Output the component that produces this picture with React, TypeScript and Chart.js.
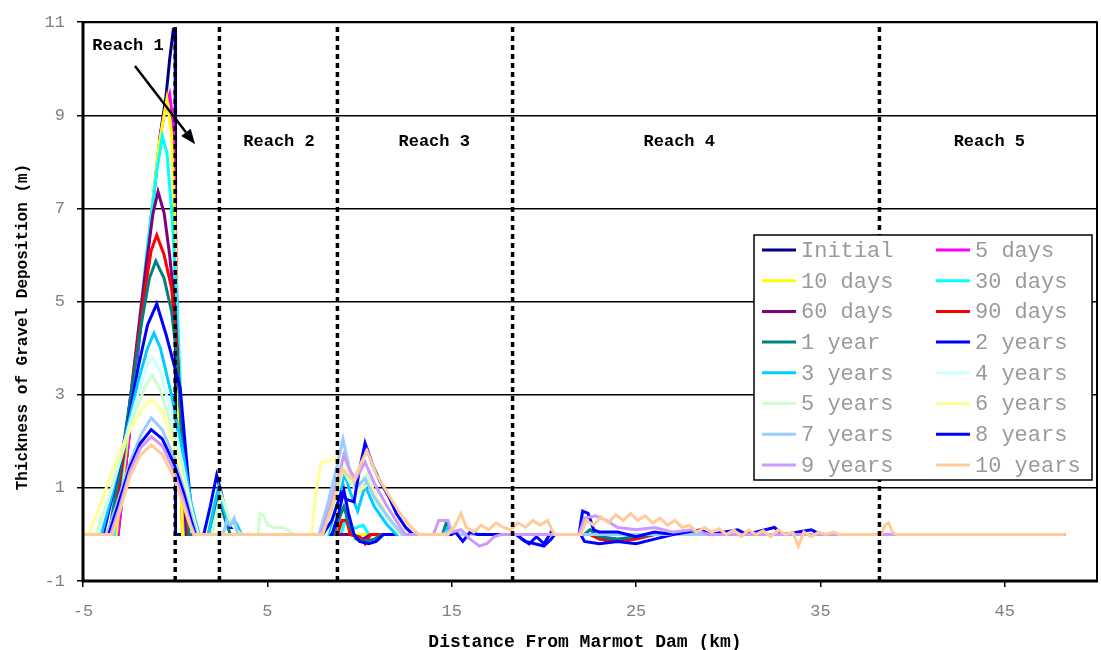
import React, { useEffect, useRef } from "react";
import { Chart, registerables } from "chart.js";

Chart.register(...registerables);

type P = [number, number];

// ---- series meta ----
const seriesLabels = [
  "Initial", "5 days", "10 days", "30 days", "60 days", "90 days",
  "1 year", "2 years", "3 years", "4 years", "5 years", "6 years",
  "7 years", "8 years", "9 years", "10 years",
];
const seriesColors = [
  "#000080", "#FF00FF", "#FFFF00", "#00FFFF", "#800080", "#FF0000",
  "#008080", "#0000FF", "#00CCFF", "#CCFFFF", "#CCFFCC", "#FFFF99",
  "#99CCFF", "#0000FF", "#CC99FF", "#FFCC99",
];

// ---- series values: [distance km, thickness m] ----
const initialPts: P[] = [[-5,0],[-3.1,0],[-2.5,2.1],[-1.9,4.4],[-1.3,6.8],[-0.8,8.6],[-0.5,9.4],[-0.3,10.2],[-0.1,10.85],[0.0,10.85],[0.02,0],[48.3,0]];
const days5Pts: P[] = [[-5,0],[-3.1,0],[-2.5,2.1],[-1.9,4.4],[-1.3,6.8],[-0.8,8.6],[-0.5,9.2],[-0.3,9.45],[-0.1,8.8],[0.05,6.0],[0.25,2.0],[0.4,0],[48.3,0]];
const days10Pts: P[] = [[-5,0],[-3.2,0],[-2.6,2.0],[-2.0,4.2],[-1.4,6.5],[-0.9,8.3],[-0.6,9.0],[-0.45,9.35],[-0.2,8.6],[0.0,6.5],[0.2,2.5],[0.4,0],[48.3,0]];
const days30Pts: P[] = [[-5,0],[-3.3,0],[-2.7,1.9],[-2.1,4.0],[-1.5,6.2],[-1.0,7.8],[-0.7,8.55],[-0.45,8.2],[-0.2,7.0],[0.1,5.0],[0.35,2.5],[0.6,0],[9.0,0],[9.3,0.4],[9.5,0.1],[10.2,0.2],[10.5,0],[48.3,0]];
const days60Pts: P[] = [[-5,0],[-3.4,0],[-2.8,1.7],[-2.2,3.7],[-1.6,5.7],[-1.2,6.9],[-0.93,7.36],[-0.6,6.9],[-0.3,6.0],[0.0,4.8],[0.3,2.5],[0.6,0],[9.5,0],[10.2,-0.1],[10.6,0],[22.5,0],[23.5,-0.15],[24.5,-0.1],[25,0],[48.3,0]];
const days90Pts: P[] = [[-5,0],[-3.5,0],[-2.9,1.5],[-2.3,3.3],[-1.7,5.1],[-1.3,6.1],[-1.0,6.43],[-0.6,6.0],[-0.2,5.3],[0.1,4.0],[0.4,1.9],[0.7,0],[8.8,0],[9.05,0.3],[9.3,0.3],[9.5,0],[10.0,-0.05],[10.3,-0.2],[10.6,0],[22.5,0],[23,-0.1],[24,-0.15],[25,-0.1],[26,0],[48.3,0]];
const year1Pts: P[] = [[-5,0],[-3.6,0],[-3.0,1.4],[-2.4,3.0],[-1.8,4.6],[-1.4,5.5],[-1.05,5.87],[-0.6,5.5],[-0.2,4.8],[0.1,3.8],[0.43,1.8],[0.75,0],[1.8,0],[2.1,0.5],[2.3,0.85],[2.5,0.6],[2.8,0.2],[3.0,0],[8.6,0],[9.0,0.45],[9.15,0.6],[9.45,0.2],[9.8,-0.1],[10.3,-0.15],[10.8,-0.1],[11.2,0],[14.5,0],[14.7,0.25],[14.9,0.1],[15.1,0],[22.2,0],[22.5,0.1],[23,-0.05],[24,-0.1],[25,-0.05],[26,0],[48.3,0]];
const years2Pts: P[] = [[-5,0],[-3.9,0],[-3.3,1.0],[-2.6,2.3],[-2.0,3.6],[-1.5,4.5],[-1.0,4.95],[-0.5,4.3],[0.27,3.15],[0.64,1.5],[0.9,0.4],[1.1,0],[1.55,0],[1.9,0.6],[2.25,1.27],[2.5,0.9],[2.75,0.45],[3.0,0.15],[3.3,0.15],[3.5,0],[8.5,0],[8.9,0.5],[9.15,0.95],[9.4,0.45],[9.7,0.0],[10.0,-0.15],[10.5,-0.2],[10.9,-0.15],[11.3,0],[18.5,0],[19.0,-0.15],[19.5,-0.2],[20.0,-0.25],[20.4,-0.1],[20.6,0],[22.0,0],[22.2,-0.15],[23.0,-0.2],[24.0,-0.15],[25.0,-0.2],[26.0,-0.1],[27,0],[48.3,0]];
const years3Pts: P[] = [[-5,0],[-4.0,0],[-3.4,0.9],[-2.7,2.1],[-2.0,3.3],[-1.5,4.0],[-1.15,4.32],[-0.8,4.0],[-0.2,3.0],[0.4,1.8],[0.9,0.6],[1.3,0],[1.8,0],[2.1,0.6],[2.35,1.0],[2.6,0.6],[2.9,0.2],[3.3,0.25],[3.6,0],[8.3,0],[8.8,0.7],[9.2,1.3],[9.5,0.9],[9.9,0.5],[10.3,1.05],[10.8,0.6],[11.5,0.2],[12.0,0],[14.6,0],[14.8,0.15],[15.0,0],[48.3,0]];
const years4Pts: P[] = [[-5,0],[-4.2,0],[-3.5,0.9],[-2.8,1.9],[-2.1,2.9],[-1.55,3.6],[-1.25,3.8],[-0.8,3.5],[-0.2,2.6],[0.4,1.5],[0.9,0.5],[1.25,0],[8.0,0],[8.5,0.8],[9.0,1.5],[9.3,1.45],[9.8,0.9],[10.4,1.2],[11.0,0.6],[11.8,0.2],[12.3,0],[15.8,0],[16.2,0.1],[16.6,0],[48.3,0]];
const years5Pts: P[] = [[-5,0],[-4.3,0],[-3.6,0.8],[-2.9,1.7],[-2.2,2.6],[-1.6,3.2],[-1.25,3.42],[-0.8,3.1],[-0.2,2.3],[0.4,1.3],[0.9,0.4],[1.2,0],[2.0,0],[2.3,0.5],[2.5,0.85],[2.7,0.6],[3.0,0.25],[3.3,0.1],[3.6,0],[4.5,0],[4.6,0.45],[4.8,0.4],[5.0,0.2],[5.4,0.15],[5.8,0.15],[6.1,0.1],[6.4,0],[8.2,0],[8.7,0.7],[9.1,1.4],[9.5,1.1],[9.9,1.0],[10.4,1.3],[11.0,0.7],[11.6,0.3],[12.2,0],[48.3,0]];
const years6Pts: P[] = [[-5,0],[-4.7,0],[-4.0,0.7],[-3.3,1.5],[-2.5,2.2],[-1.8,2.7],[-1.3,2.9],[-0.7,2.65],[-0.1,1.95],[0.45,1.1],[1.0,0.3],[1.2,0],[7.4,0],[7.6,0.8],[7.9,1.55],[8.6,1.6],[9.1,1.75],[9.5,1.2],[9.9,0.9],[10.5,1.1],[11.1,0.7],[11.7,0.3],[12.2,0],[28,0],[28.5,0.1],[29,0],[48.3,0]];
const years7Pts: P[] = [[-5,0],[-3.7,0],[-3.0,0.85],[-2.4,1.6],[-1.85,2.15],[-1.3,2.5],[-0.7,2.25],[-0.1,1.7],[0.45,1.0],[0.95,0.3],[1.15,0],[2.6,0],[2.8,0.3],[3.0,0.2],[3.2,0.35],[3.4,0],[7.8,0],[8.3,0.7],[8.8,1.5],[9.1,2.05],[9.4,1.5],[9.8,1.0],[10.3,1.2],[10.8,0.8],[11.5,0.4],[12.3,0],[14.5,0],[15,0.1],[15.5,0],[48.3,0]];
const years8Pts: P[] = [[-5,0],[-3.6,0],[-3.0,0.75],[-2.45,1.45],[-1.9,1.95],[-1.3,2.25],[-0.7,2.05],[-0.1,1.55],[0.45,0.9],[0.9,0.25],[1.1,0],[8.0,0],[8.5,0.3],[9.0,0.9],[9.3,0.75],[9.7,0.7],[10.0,1.4],[10.3,1.96],[10.7,1.5],[11.1,1.15],[11.6,0.8],[12.0,0.45],[12.5,0.15],[12.9,0],[15.0,0],[15.2,0.05],[15.6,-0.15],[16.0,0.05],[16.4,0],[18.5,0],[18.8,-0.1],[19.2,-0.2],[19.6,-0.05],[20.0,-0.2],[20.4,0.05],[20.6,0],[21.9,0],[22.1,0.5],[22.4,0.45],[22.7,0.1],[23.0,0.05],[24,0.05],[25,-0.05],[26,0.05],[27,0],[28.5,0.1],[29,0],[30.5,0.1],[31,0],[32.5,0.15],[33,0],[34.5,0.1],[35,0],[48.3,0]];
const years9Pts: P[] = [[-5,0],[-3.5,0],[-3.0,0.6],[-2.45,1.35],[-1.9,1.85],[-1.3,2.1],[-0.7,1.9],[-0.1,1.4],[0.4,0.8],[0.85,0.2],[1.05,0],[7.9,0],[8.4,0.6],[8.9,1.3],[9.15,1.7],[9.5,1.35],[9.8,1.2],[10.3,1.55],[10.8,1.1],[11.5,0.6],[12.3,0.1],[12.5,0],[14.0,0],[14.3,0.3],[14.8,0.3],[15.0,0.05],[15.5,0.1],[16.0,-0.1],[16.5,-0.25],[16.9,-0.2],[17.3,-0.05],[17.7,0],[21.9,0],[22.2,0.35],[22.8,0.4],[23.4,0.3],[24.0,0.15],[25.0,0.1],[26.0,0.15],[27.0,0.05],[28.0,0.1],[29.0,0.0],[48.3,0]];
const years10Pts: P[] = [[-5,0],[-3.4,0],[-3.0,0.5],[-2.45,1.25],[-1.9,1.7],[-1.3,1.92],[-0.7,1.72],[-0.1,1.25],[0.37,0.72],[0.8,0.2],[1.0,0],[8.0,0],[8.5,0.6],[9.05,1.4],[9.4,1.25],[9.7,1.15],[10.1,1.55],[10.4,1.8],[10.9,1.3],[11.5,0.9],[12.2,0.45],[12.8,0.15],[13.2,0],[14.8,0],[15.2,0.2],[15.5,0.45],[15.8,0.15],[16.2,0.05],[16.6,0.2],[17.0,0.1],[17.4,0.25],[17.8,0.15],[18.2,0.1],[18.6,0.25],[19.0,0.15],[19.4,0.3],[19.8,0.2],[20.2,0.3],[20.5,0.05],[20.6,0],[22.0,0],[22.3,0.3],[22.7,0.2],[23.1,0.38],[23.5,0.25],[23.9,0.42],[24.3,0.3],[24.7,0.45],[25.1,0.3],[25.5,0.4],[25.9,0.25],[26.3,0.35],[26.7,0.2],[27.1,0.3],[27.5,0.15],[27.9,0.2],[28.3,0.05],[28.7,0.15],[29.1,0.05],[29.5,0.12],[29.9,0.0],[30.3,0.1],[30.7,-0.05],[31.1,0.1],[31.5,0.0],[31.9,0.08],[32.3,-0.05],[32.7,0.1],[33.1,0.0],[33.5,0.05],[33.8,-0.25],[34.1,0.05],[34.5,-0.05],[34.9,0.05],[35.3,0.0],[35.7,0.05],[36.0,0],[38.3,0],[38.5,0.2],[38.7,0.25],[38.9,0.05],[39.1,0],[48.3,0]];

const seriesPoints: P[][] = [
  initialPts, days5Pts, days10Pts, days30Pts, days60Pts, days90Pts,
  year1Pts, years2Pts, years3Pts, years4Pts, years5Pts, years6Pts,
  years7Pts, years8Pts, years9Pts, years10Pts,
];

// ---- reach boundaries & annotations ----
const reachBoundaryKm = [0, 2.4, 8.8, 18.3, 38.2];
const reachNames = ["Reach 1", "Reach 2", "Reach 3", "Reach 4", "Reach 5"];
const reachLabelKm = [-2.56, 5.63, 14.05, 27.34, 44.16];
const reachLabelM = [10.49, 8.43, 8.43, 8.43, 8.43];
const arrowFrom: P = [-2.18, 10.06];
const arrowTo: P = [1.08, 8.38];

// ---- ticks & titles ----
const xTicks = [-5, 5, 15, 25, 35, 45];
const yTicks = [-1, 1, 3, 5, 7, 9, 11];
const xTitle = "Distance From Marmot Dam (km)";
const yTitle = "Thickness of Gravel Deposition (m)";

const MONO = '"Liberation Mono", "Courier New", monospace';

const decorPlugin = {
  id: "decor",
  afterDatasetsDraw(chart: any) {
    const { ctx, chartArea: ca, scales } = chart;
    const x = scales.x;
    const y = scales.y;
    ctx.save();
    // frame
    ctx.strokeStyle = "#000";
    ctx.lineWidth = 2;
    ctx.beginPath();
    ctx.moveTo(ca.left, ca.top);
    ctx.lineTo(ca.right, ca.top);
    ctx.lineTo(ca.right, ca.bottom);
    ctx.stroke();
    ctx.lineWidth = 3;
    ctx.beginPath();
    ctx.moveTo(ca.left, ca.top - 1);
    ctx.lineTo(ca.left, ca.bottom);
    ctx.lineTo(ca.right + 1, ca.bottom);
    ctx.stroke();

    // reach labels
    ctx.fillStyle = "#000";
    ctx.font = `bold 17px ${MONO}`;
    ctx.textAlign = "center";
    ctx.textBaseline = "middle";
    reachNames.forEach((n, i) => {
      ctx.fillText(n, x.getPixelForValue(reachLabelKm[i]), y.getPixelForValue(reachLabelM[i]));
    });

    // arrow
    const x0 = x.getPixelForValue(arrowFrom[0]);
    const y0 = y.getPixelForValue(arrowFrom[1]);
    const x1 = x.getPixelForValue(arrowTo[0]);
    const y1 = y.getPixelForValue(arrowTo[1]);
    const ang = Math.atan2(y1 - y0, x1 - x0);
    const headLen = 15;
    const headHalf = 6;
    const bx = x1 - headLen * Math.cos(ang);
    const by = y1 - headLen * Math.sin(ang);
    ctx.strokeStyle = "#000";
    ctx.lineWidth = 2.5;
    ctx.beginPath();
    ctx.moveTo(x0, y0);
    ctx.lineTo(bx, by);
    ctx.stroke();
    ctx.beginPath();
    ctx.moveTo(x1, y1);
    ctx.lineTo(bx + headHalf * Math.sin(ang), by - headHalf * Math.cos(ang));
    ctx.lineTo(bx - headHalf * Math.sin(ang), by + headHalf * Math.cos(ang));
    ctx.closePath();
    ctx.fill();

    // legend
    const lx = 754, ly = 235, lw = 338, lh = 245;
    ctx.fillStyle = "#fff";
    ctx.fillRect(lx, ly, lw, lh);
    ctx.strokeStyle = "#000";
    ctx.lineWidth = 1.5;
    ctx.strokeRect(lx, ly, lw, lh);
    ctx.font = `22px ${MONO}`;
    ctx.textAlign = "left";
    ctx.textBaseline = "middle";
    seriesLabels.forEach((lab, i) => {
      const col = i % 2;
      const row = Math.floor(i / 2);
      const cy = ly + 15 + row * 30.7;
      const sx = col === 0 ? lx + 8 : lx + 182;
      ctx.strokeStyle = seriesColors[i];
      ctx.lineWidth = 3;
      ctx.beginPath();
      ctx.moveTo(sx, cy);
      ctx.lineTo(sx + 34, cy);
      ctx.stroke();
      ctx.fillStyle = "#9a9a9a";
      ctx.fillText(lab, sx + 39, cy + 1);
    });

    // axis titles
    ctx.fillStyle = "#000";
    ctx.font = `bold 18px ${MONO}`;
    ctx.textAlign = "center";
    ctx.textBaseline = "middle";
    ctx.fillText(xTitle, 585, 642);
    ctx.font = `bold 16px ${MONO}`;
    ctx.translate(23, 327);
    ctx.rotate(-Math.PI / 2);
    ctx.fillText(yTitle, 0, 0);
    ctx.restore();
  },
};

export default function App() {
  const canvasRef = useRef<HTMLCanvasElement | null>(null);

  useEffect(() => {
    if (!canvasRef.current) return;
    const n = seriesPoints.length;
    const dataSets: any[] = [];
    reachBoundaryKm.forEach((km) => {
      dataSets.push({
        label: "",
        data: [{ x: km, y: -1 }, { x: km, y: 11 }],
        borderColor: "#000",
        borderWidth: 3.5,
        borderDash: [5, 4],
        pointRadius: 0,
        fill: false,
        order: 0,
      });
    });
    seriesPoints.forEach((pts, i) => {
      dataSets.push({
        label: seriesLabels[i],
        data: pts.map(([px, py]) => ({ x: px, y: py })),
        borderColor: seriesColors[i],
        backgroundColor: seriesColors[i],
        borderWidth: 3,
        pointRadius: 0,
        fill: false,
        tension: 0,
        order: n - i + 1,
      });
    });

    const chart = new Chart(canvasRef.current, {
      type: "line",
      data: { datasets: dataSets },
      options: {
        animation: false,
        responsive: false,
        maintainAspectRatio: false,
        layout: { padding: { top: 16, right: 4, left: 0, bottom: 0 } },
        plugins: { legend: { display: false }, tooltip: { enabled: false } },
        scales: {
          x: {
            type: "linear",
            min: -5,
            max: 50,
            afterBuildTicks: (s: any) => {
              s.ticks = xTicks.map((v) => ({ value: v }));
            },
            afterFit: (s: any) => {
              s.height = 69;
            },
            grid: { drawOnChartArea: false, drawTicks: true, tickLength: 6, color: "#000", lineWidth: 1.5 },
            border: { display: false },
            ticks: { color: "#808080", font: { family: MONO, size: 17 }, padding: 14, maxRotation: 0, autoSkip: false },
          },
          y: {
            type: "linear",
            min: -1,
            max: 11,
            afterBuildTicks: (s: any) => {
              s.ticks = yTicks.map((v) => ({ value: v }));
            },
            afterFit: (s: any) => {
              s.width = 83;
            },
            grid: { drawTicks: true, tickLength: 6, color: "#000", lineWidth: 1.5 },
            border: { display: false },
            ticks: { color: "#808080", font: { family: MONO, size: 17 }, padding: 12, autoSkip: false },
          },
        },
      },
      plugins: [decorPlugin],
    } as any);
    return () => chart.destroy();
  }, []);

  return (
    <div style={{ position: "absolute", left: 0, top: 0, width: 1101, height: 650, background: "#fff" }}>
      <canvas ref={canvasRef} width={1101} height={650} />
    </div>
  );
}
